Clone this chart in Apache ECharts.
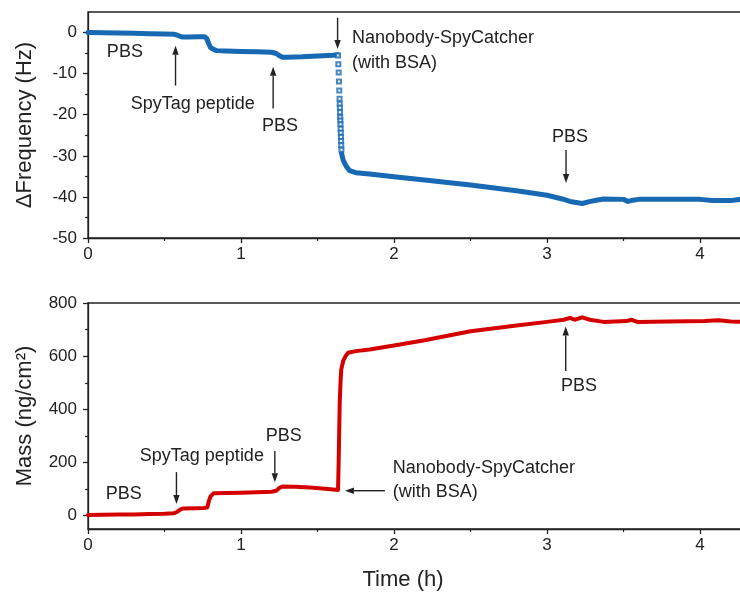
<!DOCTYPE html>
<html>
<head>
<meta charset="utf-8">
<script src="https://cdn.jsdelivr.net/npm/echarts@6/dist/echarts.min.js"></script>
<style>
  html, body { margin: 0; padding: 0; background: #ffffff; }
  #chart { width: 740px; height: 594px; }
</style>
</head>
<body>
<div id="chart"></div>
<script>
// QCM-D record: frequency shift and adsorbed mass versus time (h)

// Frequency shift (Hz) before the Nanobody-SpyCatcher injection
const freqBefore = [
  [0, 0], [0.1, -0.05], [0.2, -0.1], [0.3, -0.2], [0.4, -0.3], [0.5, -0.35], [0.56, -0.4],
  [0.58, -0.6], [0.6, -0.9], [0.62, -1.1], [0.66, -1.1], [0.72, -1.05], [0.76, -1.0],
  [0.775, -1.4], [0.79, -2.8], [0.8, -3.6], [0.82, -4.1], [0.84, -4.4], [0.9, -4.5],
  [1.0, -4.6], [1.1, -4.7], [1.2, -4.8], [1.23, -5.1], [1.25, -5.6], [1.27, -6.0],
  [1.3, -6.0], [1.4, -5.9], [1.5, -5.7], [1.6, -5.5], [1.634, -5.4]
];
// Fast drop right after injection (sparse points)
const freqDrop = [
  [1.634, -5.6], [1.636, -7.7], [1.638, -9.7], [1.640, -11.9], [1.642, -14.1], [1.644, -16.1],
  [1.645, -17.3], [1.646, -18.3], [1.647, -19.4], [1.648, -20.6], [1.649, -21.4],
  [1.650, -22.3], [1.651, -23.4], [1.652, -24.4], [1.653, -25.4], [1.654, -26.4],
  [1.655, -27.4], [1.656, -28.5]
];
// Frequency shift (Hz) after the drop
const freqAfter = [
  [1.657, -29.4], [1.668, -31.1], [1.69, -32.7], [1.71, -33.6], [1.75, -34.1], [1.84, -34.4],
  [2.0, -35.1], [2.2, -35.9], [2.5, -37.1], [2.8, -38.5], [3.0, -39.6], [3.1, -40.5],
  [3.15, -41.1], [3.2, -41.4], [3.23, -41.6], [3.27, -41.2], [3.32, -40.8], [3.37, -40.5],
  [3.5, -40.6], [3.53, -41.1], [3.56, -40.8], [3.6, -40.6], [3.8, -40.6], [4.0, -40.6],
  [4.08, -40.9], [4.2, -40.9], [4.3, -40.4]
];
// Adsorbed mass (ng/cm²)
const massData = [
  [0, 3], [0.1, 4], [0.2, 5], [0.3, 5], [0.4, 6], [0.5, 7], [0.56, 9], [0.58, 14],
  [0.6, 22], [0.62, 27], [0.7, 28], [0.76, 29], [0.78, 32], [0.79, 55], [0.8, 72],
  [0.82, 84], [0.9, 85], [1.0, 86], [1.1, 88], [1.2, 90], [1.23, 94], [1.25, 104],
  [1.27, 110], [1.35, 109], [1.45, 106], [1.55, 101], [1.62, 98], [1.634, 97],
  [1.638, 200], [1.642, 330], [1.645, 425], [1.65, 500], [1.655, 550], [1.667, 581],
  [1.685, 602], [1.70, 613], [1.75, 619], [1.84, 625], [2.0, 640], [2.2, 660],
  [2.5, 694], [2.8, 715], [3.0, 729], [3.11, 737], [3.15, 744], [3.18, 737],
  [3.23, 746], [3.28, 737], [3.37, 729], [3.52, 732], [3.55, 737], [3.59, 729],
  [3.8, 730], [4.03, 732], [4.12, 735], [4.2, 730], [4.3, 729]
];

// Tick values
const timeTicks = [0, 1, 2, 3, 4];
const timeMinor = [0.5, 1.5, 2.5, 3.5];
const freqTicks = [-50, -40, -30, -20, -10, 0];
const freqMinor = [-45, -35, -25, -15, -5];
const massTicks = [0, 200, 400, 600, 800];
const massMinor = [100, 300, 500, 700];

const FONT = '"Liberation Sans", Arial, sans-serif';
const INK = '#222222';
const BLUE = '#1769b3';
const RED = '#d40000';
const TICK_FS = 17;

const chart = echarts.init(document.getElementById('chart'), null, { renderer: 'canvas' });

function mainAxis(gridIndex, min, max, ticks, extra) {
  return Object.assign({
    type: 'value', gridIndex, min, max,
    axisLine: { show: true, onZero: false, lineStyle: { color: INK, width: 1.3 } },
    axisTick: { show: true, inside: false, length: 5, customValues: ticks, lineStyle: { color: INK, width: 1.3 } },
    axisLabel: { show: true, customValues: ticks, color: INK, fontSize: TICK_FS, fontFamily: FONT },
    splitLine: { show: false }
  }, extra);
}
function minorAxis(gridIndex, min, max, ticks, position) {
  return {
    type: 'value', gridIndex, min, max, position,
    axisLine: { show: false, onZero: false },
    axisTick: { show: true, inside: false, length: 3, customValues: ticks, lineStyle: { color: INK, width: 1.2 } },
    axisLabel: { show: false },
    splitLine: { show: false }
  };
}

const nameStyle = { color: INK, fontSize: 22, fontFamily: FONT };

const option = {
  backgroundColor: '#ffffff',
  animation: false,
  grid: [
    { left: 88, top: 12, height: 226, right: -6, show: true, borderColor: INK, borderWidth: 1.3, containLabel: false, outerBoundsMode: 'none' },
    { left: 88, top: 303, height: 226, right: -6, show: true, borderColor: INK, borderWidth: 1.3, containLabel: false, outerBoundsMode: 'none' }
  ],
  xAxis: [
    mainAxis(0, 0, 4.3, timeTicks, { position: 'bottom', axisLabel: { customValues: timeTicks, color: INK, fontSize: TICK_FS, fontFamily: FONT, margin: 8 } }),
    minorAxis(0, 0, 4.3, timeMinor, 'bottom'),
    mainAxis(1, 0, 4.3, timeTicks, {
      position: 'bottom',
      axisLabel: { customValues: timeTicks, color: INK, fontSize: TICK_FS, fontFamily: FONT, margin: 8 },
      name: 'Time (h)', nameLocation: 'middle', nameGap: 40,
      nameTextStyle: Object.assign({ padding: [0, 28, 0, 0] }, nameStyle)
    }),
    minorAxis(1, 0, 4.3, timeMinor, 'bottom')
  ],
  yAxis: [
    mainAxis(0, -50, 5, freqTicks, {
      position: 'left',
      axisLabel: { customValues: freqTicks, color: INK, fontSize: TICK_FS, fontFamily: FONT, margin: 11 },
      name: 'ΔFrequency (Hz)', nameLocation: 'middle', nameGap: 52, nameTextStyle: nameStyle
    }),
    minorAxis(0, -50, 5, freqMinor, 'left'),
    mainAxis(1, -50, 800, massTicks, {
      position: 'left',
      axisLabel: { customValues: massTicks, color: INK, fontSize: TICK_FS, fontFamily: FONT, margin: 11 },
      name: 'Mass (ng/cm²)', nameLocation: 'middle', nameGap: 52, nameTextStyle: nameStyle
    }),
    minorAxis(1, -50, 800, massMinor, 'left')
  ],
  series: [
    {
      type: 'line', xAxisIndex: 0, yAxisIndex: 0, data: freqBefore, showSymbol: false, symbol: 'none',
      lineStyle: { color: BLUE, width: 5, join: 'round', cap: 'round' }, z: 3
    },
    {
      type: 'scatter', xAxisIndex: 0, yAxisIndex: 0, data: freqDrop, symbol: 'emptyRect', symbolSize: 4,
      itemStyle: { color: BLUE, borderColor: BLUE, borderWidth: 1 }, z: 3
    },
    {
      type: 'line', xAxisIndex: 0, yAxisIndex: 0, data: freqAfter, showSymbol: false, symbol: 'none',
      lineStyle: { color: BLUE, width: 5, join: 'round', cap: 'round' }, z: 3
    },
    {
      type: 'line', xAxisIndex: 2, yAxisIndex: 2, data: massData, showSymbol: false, symbol: 'none',
      lineStyle: { color: RED, width: 4, join: 'round', cap: 'round' }, z: 3
    }
  ]
};

chart.setOption(option);

// Annotations, anchored in data coordinates of each panel
const topPanel = { xAxisIndex: 0, yAxisIndex: 0 };
const bottomPanel = { xAxisIndex: 2, yAxisIndex: 2 };

const labels = [
  { panel: topPanel, text: 'PBS', at: [0.241, -4.7], align: 'center' },
  { panel: topPanel, text: 'SpyTag peptide', at: [0.685, -17.3], align: 'center' },
  { panel: topPanel, text: 'PBS', at: [1.254, -22.8], align: 'center' },
  { panel: topPanel, text: 'Nanobody-SpyCatcher', at: [1.725, -1.3], align: 'left' },
  { panel: topPanel, text: '(with BSA)', at: [1.725, -7.3], align: 'left' },
  { panel: topPanel, text: 'PBS', at: [3.15, -25.5], align: 'center' },
  { panel: bottomPanel, text: 'PBS', at: [0.233, 82], align: 'center' },
  { panel: bottomPanel, text: 'SpyTag peptide', at: [0.744, 224], align: 'center' },
  { panel: bottomPanel, text: 'PBS', at: [1.28, 299], align: 'center' },
  { panel: bottomPanel, text: 'Nanobody-SpyCatcher', at: [1.992, 179], align: 'left' },
  { panel: bottomPanel, text: '(with BSA)', at: [1.992, 89], align: 'left' },
  { panel: bottomPanel, text: 'PBS', at: [3.209, 486], align: 'center' }
];

const arrows = [
  { panel: topPanel, from: [0.572, -12.9], to: [0.572, -3.2] },
  { panel: topPanel, from: [1.21, -18.5], to: [1.21, -8.3] },
  { panel: topPanel, from: [1.631, 3.6], to: [1.631, -4.0] },
  { panel: topPanel, from: [3.124, -28.6], to: [3.124, -36.6] },
  { panel: bottomPanel, from: [0.578, 164], to: [0.578, 44] },
  { panel: bottomPanel, from: [1.221, 243], to: [1.221, 126] },
  { panel: bottomPanel, from: [1.94, 94], to: [1.679, 94] },
  { panel: bottomPanel, from: [3.122, 544], to: [3.122, 712] }
];

const graphics = [];
labels.forEach(function (l) {
  const p = chart.convertToPixel(l.panel, l.at);
  graphics.push({
    type: 'text', z: 10,
    style: { text: l.text, x: p[0], y: p[1], fill: INK, font: '18px ' + FONT, align: l.align, verticalAlign: 'middle' }
  });
});
arrows.forEach(function (a) {
  const s = chart.convertToPixel(a.panel, a.from);
  const e = chart.convertToPixel(a.panel, a.to);
  const dx = e[0] - s[0], dy = e[1] - s[1];
  const len = Math.sqrt(dx * dx + dy * dy);
  const ux = dx / len, uy = dy / len;
  const headLen = 9, headHalf = 3.2;
  const bx = e[0] - ux * headLen, by = e[1] - uy * headLen;
  graphics.push({
    type: 'line', z: 10,
    shape: { x1: s[0], y1: s[1], x2: bx, y2: by },
    style: { stroke: INK, lineWidth: 1.4 }
  });
  graphics.push({
    type: 'polygon', z: 10,
    shape: { points: [[e[0], e[1]], [bx - uy * headHalf, by + ux * headHalf], [bx + uy * headHalf, by - ux * headHalf]] },
    style: { fill: INK }
  });
});

chart.setOption({ graphic: graphics });
</script>
</body>
</html>
